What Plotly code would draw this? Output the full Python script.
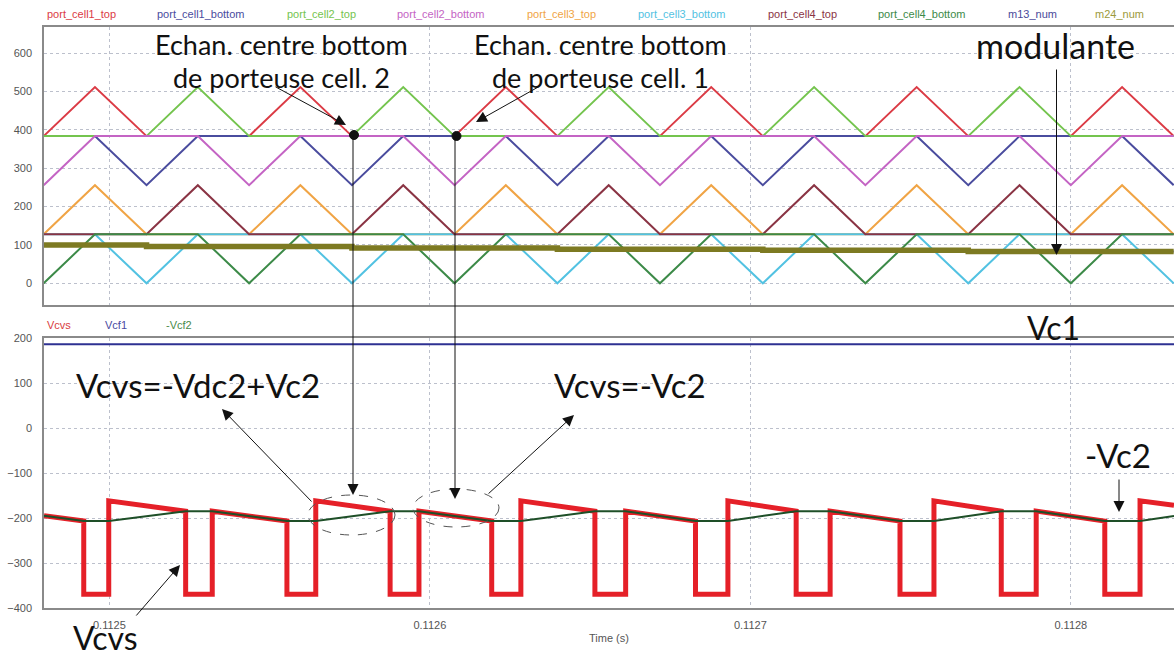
import plotly.graph_objects as go

# ---------------- DATA ----------------
# carrier vertex times (s)
carrier_t = [0.1124795, 0.1124955, 0.1125116, 0.1125276, 0.1125436, 0.1125596,
             0.1125757, 0.1125917, 0.1126077, 0.1126237, 0.1126398, 0.1126558,
             0.1126718, 0.1126878, 0.1127039, 0.1127199, 0.1127359, 0.1127519,
             0.1127680, 0.1127840, 0.1128000, 0.1128160, 0.1128321]

port_cell1_top    = [384, 512, 384, 384, 384, 512, 384, 384, 384, 512, 384, 384,
                     384, 512, 384, 384, 384, 512, 384, 384, 384, 512, 384]
port_cell1_bottom = [384, 384, 256, 384, 384, 384, 256, 384, 384, 384, 256, 384,
                     384, 384, 256, 384, 384, 384, 256, 384, 384, 384, 256]
port_cell2_top    = [384, 384, 384, 512, 384, 384, 384, 512, 384, 384, 384, 512,
                     384, 384, 384, 512, 384, 384, 384, 512, 384, 384, 384]
port_cell2_bottom = [256, 384, 384, 384, 256, 384, 384, 384, 256, 384, 384, 384,
                     256, 384, 384, 384, 256, 384, 384, 384, 256, 384, 384]
port_cell3_top    = [128, 256, 128, 128, 128, 256, 128, 128, 128, 256, 128, 128,
                     128, 256, 128, 128, 128, 256, 128, 128, 128, 256, 128]
port_cell3_bottom = [128, 128, 0, 128, 128, 128, 0, 128, 128, 128, 0, 128,
                     128, 128, 0, 128, 128, 128, 0, 128, 128, 128, 0]
port_cell4_top    = [128, 128, 128, 256, 128, 128, 128, 256, 128, 128, 128, 256,
                     128, 128, 128, 256, 128, 128, 128, 256, 128, 128, 128]
port_cell4_bottom = [0, 128, 128, 128, 0, 128, 128, 128, 0, 128, 128, 128,
                     0, 128, 128, 128, 0, 128, 128, 128, 0, 128, 128]

# modulating signals (sampled, step-wise)
mod_t   = [0.1124795, 0.1125116, 0.1125757, 0.1126398, 0.1127039, 0.1127680, 0.1128321]
m13_num = [100, 96, 92, 89, 86, 83, 83]
m24_num = [100, 96, 92, 89, 86, 83, 83]

# lower panel
vcvs_t = [0.1124796, 0.1124920, 0.1124920, 0.1124998, 0.1124998, 0.1125238, 0.1125238,
          0.1125321, 0.1125321, 0.1125554, 0.1125554, 0.1125644, 0.1125644, 0.1125876,
          0.1125876, 0.1125966, 0.1125966, 0.1126193, 0.1126193, 0.1126284, 0.1126284,
          0.1126515, 0.1126515, 0.1126611, 0.1126611, 0.1126829, 0.1126829, 0.1126930,
          0.1126930, 0.1127143, 0.1127143, 0.1127249, 0.1127249, 0.1127467, 0.1127467,
          0.1127573, 0.1127573, 0.1127783, 0.1127783, 0.1127892, 0.1127892, 0.1128106,
          0.1128106, 0.1128216, 0.1128216, 0.1128322]
vcvs_v = [-194, -206, -369, -369, -161, -184, -369, -369, -184, -206, -369, -369,
          -161, -184, -369, -369, -184, -206, -369, -369, -161, -184, -369, -369,
          -184, -206, -369, -369, -161, -184, -369, -369, -184, -206, -369, -369,
          -161, -184, -369, -369, -184, -206, -369, -369, -161, -171]

vcf2_t = [0.1124796, 0.1124920, 0.1124998, 0.1125238, 0.1125321, 0.1125554, 0.1125644,
          0.1125876, 0.1125966, 0.1126193, 0.1126284, 0.1126515, 0.1126611, 0.1126829,
          0.1126930, 0.1127143, 0.1127249, 0.1127467, 0.1127573, 0.1127783, 0.1127892,
          0.1128106, 0.1128216, 0.1128322]
neg_vcf2 = [-194, -206, -206, -184, -184, -206, -206, -184, -184, -206, -206, -184,
            -184, -206, -206, -184, -184, -206, -206, -184, -184, -206, -206, -195]

vcf1_t = [0.1124796, 0.1128322]
vcf1 = [187, 187]

x_ticks = [0.1125, 0.1126, 0.1127, 0.1128]
x_tick_labels = ["0.1125", "0.1126", "0.1127", "0.1128"]
y1_ticks = [0, 100, 200, 300, 400, 500, 600]
y2_ticks = [-400, -300, -200, -100, 0, 100, 200]

# ---------------- FIGURE ----------------
W, H = 1174, 655
def PX(x): return x / W
def PY(y): return 1 - y / H

top_series = [
    ("port_cell1_top", port_cell1_top, "#db3b45"),
    ("port_cell1_bottom", port_cell1_bottom, "#4a4c9e"),
    ("port_cell2_top", port_cell2_top, "#74c44e"),
    ("port_cell2_bottom", port_cell2_bottom, "#c464c4"),
    ("port_cell3_top", port_cell3_top, "#f0a445"),
    ("port_cell3_bottom", port_cell3_bottom, "#52c2e2"),
    ("port_cell4_top", port_cell4_top, "#8a3444"),
    ("port_cell4_bottom", port_cell4_bottom, "#3c8a48"),
]

fig = go.Figure()
for name, vals, col in top_series:
    fig.add_trace(go.Scatter(x=carrier_t, y=vals, mode="lines", name=name,
                             line=dict(color=col, width=2), xaxis="x", yaxis="y",
                             showlegend=False))
fig.add_trace(go.Scatter(x=mod_t, y=m13_num, mode="lines", name="m13_num",
                         line=dict(color="#4a4a9a", width=2, shape="hv"),
                         xaxis="x", yaxis="y", showlegend=False))
fig.add_trace(go.Scatter(x=mod_t, y=m24_num, mode="lines", name="m24_num",
                         line=dict(color="#7d7a22", width=5.5, shape="hv"),
                         xaxis="x", yaxis="y", showlegend=False))

fig.add_trace(go.Scatter(x=vcvs_t, y=vcvs_v, mode="lines", name="Vcvs",
                         line=dict(color="#e52028", width=5), xaxis="x2", yaxis="y2",
                         showlegend=False))
fig.add_trace(go.Scatter(x=vcf1_t, y=vcf1, mode="lines", name="Vcf1",
                         line=dict(color="#2e3192", width=2), xaxis="x2", yaxis="y2",
                         showlegend=False))
fig.add_trace(go.Scatter(x=vcf2_t, y=neg_vcf2, mode="lines", name="-Vcf2",
                         line=dict(color="#1e4f28", width=2), xaxis="x2", yaxis="y2",
                         showlegend=False))

xr = [0.1124796, 0.1128322]
tickfont = dict(family="Liberation Sans, Arial", size=11, color="#555555")
axis_common = dict(showline=True, linecolor="#8a8a8a", linewidth=1.5, mirror=True,
                   showgrid=True, gridcolor="#bcc0cc", griddash="dot", gridwidth=1,
                   zeroline=False, ticks="", tickfont=tickfont, automargin=False)

fig.update_layout(
    width=W, height=H,
    margin=dict(l=0, r=0, t=0, b=0, autoexpand=False),
    paper_bgcolor="white", plot_bgcolor="white",
    xaxis=dict(domain=[PX(44), 1.0], range=xr, tickvals=x_ticks, showticklabels=False,
               anchor="y", **axis_common),
    yaxis=dict(domain=[PY(305), PY(27)], range=[-56.6, 668.6], tickvals=y1_ticks,
               anchor="x", ticklabelstandoff=8, **axis_common),
    xaxis2=dict(domain=[PX(44), 1.0], range=xr, tickvals=x_ticks, ticktext=x_tick_labels,
                anchor="y2", ticklabelstandoff=6,
                title=dict(text="Time (s)", font=dict(family="Liberation Sans, Arial", size=11,
                                                      color="#555555"), standoff=4),
                **axis_common),
    yaxis2=dict(domain=[PY(608.3), PY(338)], range=[-400, 201], tickvals=y2_ticks,
                anchor="x2", ticklabelstandoff=8, **axis_common),
)

# legend-like colored labels
ann = []
legend_top = [("port_cell1_top", 45, "#db3b45"), ("port_cell1_bottom", 155, "#4a4c9e"),
              ("port_cell2_top", 285, "#74c44e"), ("port_cell2_bottom", 395, "#c464c4"),
              ("port_cell3_top", 525, "#f0a445"), ("port_cell3_bottom", 636, "#52c2e2"),
              ("port_cell4_top", 766, "#8a3444"), ("port_cell4_bottom", 876, "#3c8a48"),
              ("m13_num", 1006, "#4a4a9a"), ("m24_num", 1093, "#9c9a3c")]
for txt, x, col in legend_top:
    ann.append(dict(x=PX(x), y=PY(14), xref="paper", yref="paper", text=txt,
                    showarrow=False, xanchor="left", yanchor="middle",
                    font=dict(family="Liberation Sans, Arial", size=11, color=col)))
for txt, x, col in [("Vcvs", 45, "#d94040"), ("Vcf1", 103, "#4a4aa0"), ("-Vcf2", 164, "#4a8a4a")]:
    ann.append(dict(x=PX(x), y=PY(325), xref="paper", yref="paper", text=txt,
                    showarrow=False, xanchor="left", yanchor="middle",
                    font=dict(family="Liberation Sans, Arial", size=11, color=col)))

big = "Lato"
def label(txt, x, y, size):
    ann.append(dict(x=PX(x), y=PY(y), xref="paper", yref="paper", text=txt,
                    showarrow=False, xanchor="center", yanchor="middle",
                    font=dict(family=big, size=size, color="#111111")))

label("Echan. centre bottom", 281, 44, 27)
label("de porteuse cell. 2", 281, 78, 27)
label("Echan. centre bottom", 600, 44, 27)
label("de porteuse cell. 1", 600, 78, 27)
label("modulante", 1055, 45, 34)
label("Vc1", 1053, 327, 32)
label("Vcvs=-Vdc2+Vc2", 198, 385, 33)
label("Vcvs=-Vc2", 630, 385, 33)
label("-Vc2", 1118, 455, 33)
label("Vcvs", 105, 637, 32)

def arrow(tip, tail):
    ann.append(dict(x=PX(tip[0]), y=PY(tip[1]), xref="paper", yref="paper",
                    ax=tail[0] - tip[0], ay=tail[1] - tip[1], axref="pixel", ayref="pixel",
                    text="", showarrow=True, arrowhead=2, arrowsize=2.2, arrowwidth=1,
                    arrowcolor="#111111"))

arrow((346, 125), (274, 86))
arrow((476, 122), (540, 86))
arrow((353, 495), (353, 135))
arrow((455, 499), (455, 136))
arrow((1056.5, 255), (1056.5, 68))
arrow((222, 409), (313, 503))
arrow((574, 415), (487, 495))
arrow((1119, 512), (1119, 478))
arrow((180, 565), (135, 617))

fig.update_layout(annotations=ann)

shapes = []
for cx, cy in [(354, 135), (456.5, 136)]:
    shapes.append(dict(type="circle", xref="paper", yref="paper",
                       x0=PX(cx - 4.5), x1=PX(cx + 4.5), y0=PY(cy + 4.5), y1=PY(cy - 4.5),
                       fillcolor="#111111", line=dict(color="#111111", width=1)))
for x0, x1, y0, y1 in [(308, 395, 495, 535), (413, 499, 489, 527)]:
    shapes.append(dict(type="circle", xref="paper", yref="paper",
                       x0=PX(x0), x1=PX(x1), y0=PY(y1), y1=PY(y0),
                       line=dict(color="#555555", width=1, dash="dash")))
fig.update_layout(shapes=shapes)

fig.write_html("out.html", config={"displayModeBar": False},
               post_script="document.body.style.margin='0px';")
